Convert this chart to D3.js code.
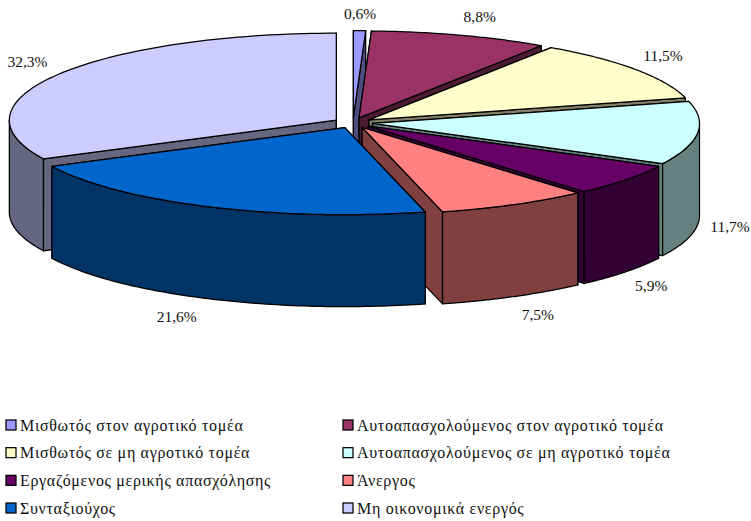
<!DOCTYPE html>
<html>
<head>
<meta charset="utf-8">
<script src="https://cdn.jsdelivr.net/npm/d3@7/dist/d3.min.js"></script>
<style>html,body{margin:0;padding:0;background:#fff}svg{display:block}text{font-family:"Liberation Serif",serif;fill:#111}</style>
</head>
<body>
<script>
const categories = ["Μισθωτός στον αγροτικό τομέα","Αυτοαπασχολούμενος στον αγροτικό τομέα","Μισθωτός σε μη αγροτικό τομέα","Αυτοαπασχολούμενος σε μη αγροτικό τομέα","Εργαζόμενος μερικής απασχόλησης","Άνεργος","Συνταξιούχος","Μη οικονομικά ενεργός"];
const shares = [0.6, 8.8, 11.5, 11.7, 5.9, 7.5, 21.6, 32.3];
const shareLabels = ["0,6%","8,8%","11,5%","11,7%","5,9%","7,5%","21,6%","32,3%"];
const palette = ["#9999FF","#993366","#FFFFCC","#CCFFFF","#660066","#FF8080","#0066CC","#CCCCFF"];
const labelNudges = [[0.5,-17.5],[19.5,-18.5],[27.5,-13.5],[32.5,93.5],[25.5,105.5],[23.5,110.5],[-31.5,110],[-31,-12.5]];
const paintOrder = [7, 0, 1, 2, 3, 4, 5, 6];

const W = 751, H = 521, cx = 353, cy = 122.9, rx = 327, ry = 87, depth = 92, explode = 0.06;
const svg = d3.select("body").append("svg").attr("width", W).attr("height", H);

// unit-circle plane to screen
const px = d3.scaleLinear().domain([-1, 1]).range([cx - rx, cx + rx]);
const py = d3.scaleLinear().domain([-1, 1]).range([cy + ry, cy - ry]);

const arcs = d3.pie().sort(null).value(d => d)(shares);
const line = d3.line();
const dark = c => { const k = d3.rgb(c); return d3.rgb(k.r * .5, k.g * .5, k.b * .5).formatHex(); };

paintOrder.forEach(i => {
  const a = arcs[i];
  const mid = (a.startAngle + a.endAngle) / 2;
  const ox = explode * Math.sin(mid), oy = explode * Math.cos(mid);
  const P = (ang, r = 1, z = 0) => [px(ox + r * Math.sin(ang)), py(oy + r * Math.cos(ang)) + z];
  const curve = (s, e, z = 0) => d3.range(0, 81).map(k => P(s + (e - s) * k / 80, 1, z));
  const apex = P(0, 0), apexB = P(0, 0, depth);
  const wall = dark(palette[i]);
  const g = svg.append("g");
  const draw = (pts, fill) => g.append("path").attr("d", line(pts) + "Z")
    .attr("fill", fill).attr("stroke", "#000").attr("stroke-width", 1.25).attr("stroke-linejoin", "round");

  draw([apex, P(a.startAngle), P(a.startAngle, 1, depth), apexB], wall);
  draw([apex, P(a.endAngle), P(a.endAngle, 1, depth), apexB], wall);
  const s = Math.max(a.startAngle, Math.PI / 2), e = Math.min(a.endAngle, 3 * Math.PI / 2);
  if (s < e) draw(curve(s, e).concat(curve(s, e, depth).reverse()), wall);
  draw([apex].concat(curve(a.startAngle, a.endAngle)), palette[i]);
});

arcs.forEach((a, i) => {
  const mid = (a.startAngle + a.endAngle) / 2;
  svg.append("text")
    .attr("x", px((1 + explode) * Math.sin(mid)) + labelNudges[i][0])
    .attr("y", py((1 + explode) * Math.cos(mid)) + labelNudges[i][1])
    .attr("dy", "0.35em").attr("text-anchor", "middle")
    .attr("font-size", 15.5).text(shareLabels[i]);
});

// legend: two columns, filled row by row
const legendX = d3.scaleOrdinal().domain([0, 1]).range([6, 343]);
const legendY = d3.scaleLinear().domain([0, 3]).range([425, 508]);
const legend = svg.selectAll("g.leg").data(categories).join("g").attr("class", "leg")
  .attr("transform", (d, i) => `translate(${legendX(i % 2)},${legendY(Math.floor(i / 2))})`);
legend.append("rect").attr("x", 0).attr("y", -5).attr("width", 10).attr("height", 10)
  .attr("fill", (d, i) => palette[i]).attr("stroke", "#000").attr("stroke-width", 1.25);
legend.append("text").attr("x", 14).attr("y", 0).attr("dy", "0.35em")
  .attr("font-size", 16).attr("letter-spacing", 0.68).text(d => d);
</script>
</body>
</html>
